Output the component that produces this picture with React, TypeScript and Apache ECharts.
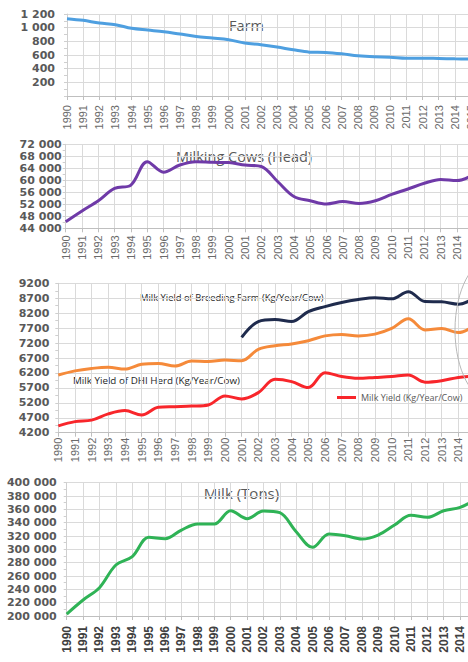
import React, { useEffect, useRef } from "react";
import * as echarts from "echarts";

const years = ["1990","1991","1992","1993","1994","1995","1996","1997","1998","1999","2000","2001","2002","2003","2004","2005","2006","2007","2008","2009","2010","2011","2012","2013","2014","2015"];
const farms = [1132,1107,1068,1044,990,965,941,906,872,848,823,775,750,716,676,642,637,617,588,573,568,554,554,549,544,540];
const milkingCows = [46200,49800,53200,57300,58400,66200,62700,65100,66200,66000,65900,65100,64600,59600,54600,53200,52100,52900,52300,53200,55300,57100,59000,60300,59900,61800];
const milkYield = [4430,4570,4620,4830,4940,4790,5050,5070,5090,5130,5430,5330,5540,5990,5910,5710,6210,6080,6020,6050,6080,6130,5890,5940,6050,6100];
const dhiYield = [6130,6270,6350,6390,6330,6490,6520,6430,6600,6580,6630,6610,6990,7110,7170,7280,7440,7490,7440,7500,7690,8010,7640,7690,7550,7800];
const breedingYield = [null,null,null,null,null,null,null,null,null,null,null,7390,7920,7990,7920,8250,8420,8560,8660,8720,8680,8920,8590,8580,8500,8720];
const milkTons = [203000,224000,242500,276500,289000,318000,316000,329000,338000,338000,358000,346000,357500,355000,326500,303000,323000,320500,315500,321500,336500,351000,348000,358000,363000,376000];

const titles = ["Farm", "Milking Cows (Head)", "Milk (Tons)"];
const breedingName = "Milk Yield of Breeding Farm (Kg/Year/Cow)";
const dhiName = "Milk Yield of DHI Herd (Kg/Year/Cow)";
const milkYieldName = "Milk Yield (Kg/Year/Cow)";

const spaced = (v: number) => String(v).replace(/\B(?=(\d{3})+(?!\d))/g, " ");

export default function App() {
  const ref = useRef<HTMLDivElement>(null);
  useEffect(() => {
    if (!ref.current) return;
    const chart = echarts.init(ref.current, undefined, { renderer: "svg" });
    const grids = [
      { left: 67, top: 14, width: 404, height: 82, outerBoundsMode: "none", containLabel: false },
      { left: 65.7, top: 144.3, width: 407.5, height: 84, outerBoundsMode: "none", containLabel: false },
      { left: 58.3, top: 283.3, width: 416.7, height: 149.4, outerBoundsMode: "none", containLabel: false },
      { left: 66.7, top: 482.7, width: 409.8, height: 133.3, outerBoundsMode: "none", containLabel: false },
    ];
    const xMargins = [9, 7, 5, 10];
    const xAxis = grids.map((_, i) => ({
      type: "category",
      gridIndex: i,
      data: years,
      boundaryGap: false,
      axisLine: { show: true, lineStyle: { color: "#bfbfbf" } },
      axisTick: { show: true, length: 4, lineStyle: { color: "#bfbfbf" }, interval: 0 },
      splitLine: { show: true, interval: 0, lineStyle: { color: "#dadada", width: 1 } },
      axisLabel: {
        interval: 0,
        rotate: 90,
        margin: xMargins[i],
        hideOverlap: false,
        fontFamily: "Liberation Sans",
        fontSize: i === 3 ? 12 : 11,
        fontWeight: i === 3 ? "bold" : "normal",
        color: i === 3 ? "#404040" : "#6a6a6a",
      },
    }));
    const yCfg = [
      { min: 0, max: 1200, interval: 200, margin: 12, fmt: (v: number) => (v === 0 ? "" : spaced(v)) },
      { min: 44000, max: 72000, interval: 4000, margin: 4, fmt: spaced },
      { min: 4200, max: 9200, interval: 500, margin: 9, fmt: (v: number) => String(v) },
      { min: 200000, max: 400000, interval: 20000, margin: 10, fmt: spaced },
    ];
    const yAxis = yCfg.map((c, i) => ({
      type: "value",
      gridIndex: i,
      min: c.min,
      max: c.max,
      interval: c.interval,
      axisLine: { show: true, lineStyle: { color: "#cfcfcf" } },
      axisTick: { show: true, length: 3, lineStyle: { color: "#cfcfcf" } },
      minorTick: { show: true, splitNumber: 2, length: 3, lineStyle: { color: "#cfcfcf" } },
      splitLine: { show: true, lineStyle: { color: "#dadada", width: 1 } },
      axisLabel: {
        margin: c.margin,
        formatter: c.fmt,
        fontFamily: "DejaVu Sans",
        fontWeight: "bold",
        fontSize: 11,
        color: "#595959",
      },
    }));
    const line = (name: string, data: any[], idx: number, color: string) => ({
      name,
      type: "line",
      xAxisIndex: idx,
      yAxisIndex: idx,
      data,
      smooth: 0.35,
      symbol: "none",
      connectNulls: false,
      lineStyle: { color, width: 3 },
      itemStyle: { color },
    });
    const titleStyle = { fontFamily: "Open Sans", fontSize: 14.5, fill: "#595959" };
    chart.setOption({
      animation: false,
      backgroundColor: "#ffffff",
      grid: grids,
      xAxis,
      yAxis,
      legend: {
        data: [milkYieldName],
        left: 337,
        top: 393,
        padding: 0,
        itemWidth: 19,
        itemHeight: 3,
        icon: "rect",
        textStyle: { fontFamily: "Open Sans", fontSize: 9, color: "#595959" },
      },
      graphic: [
        { type: "text", x: 246.5, y: 25, style: { ...titleStyle, text: titles[0], align: "center", verticalAlign: "middle" } },
        { type: "text", x: 244, y: 156, style: { ...titleStyle, text: titles[1], align: "center", verticalAlign: "middle" } },
        { type: "text", x: 241.5, y: 493, style: { ...titleStyle, fontSize: 15, text: titles[2], align: "center", verticalAlign: "middle" } },
        { type: "text", x: 140, y: 297, style: { fontFamily: "Open Sans", fontSize: 9.4, fill: "#262626", text: breedingName, align: "left", verticalAlign: "middle" } },
        { type: "text", x: 73, y: 380, style: { fontFamily: "Open Sans", fontSize: 9.8, fill: "#262626", text: dhiName, align: "left", verticalAlign: "middle" } },
        { type: "ellipse", shape: { cx: 493, cy: 330, rx: 38, ry: 72 }, style: { fill: "none", stroke: "#b8b8b8", lineWidth: 1 }, z: 100 },
      ],
      series: [
        line("Farm", farms, 0, "#4e9fe0"),
        line("Milking Cows", milkingCows, 1, "#6f3aa8"),
        line(breedingName, breedingYield, 2, "#1f2b4d"),
        line(dhiName, dhiYield, 2, "#f58a3a"),
        line(milkYieldName, milkYield, 2, "#f8262b"),
        line("Milk", milkTons, 3, "#2fb356"),
      ],
    });
    return () => chart.dispose();
  }, []);
  return <div ref={ref} style={{ position: "fixed", left: 0, top: 0, width: 468, height: 662, background: "#fff" }} />;
}
